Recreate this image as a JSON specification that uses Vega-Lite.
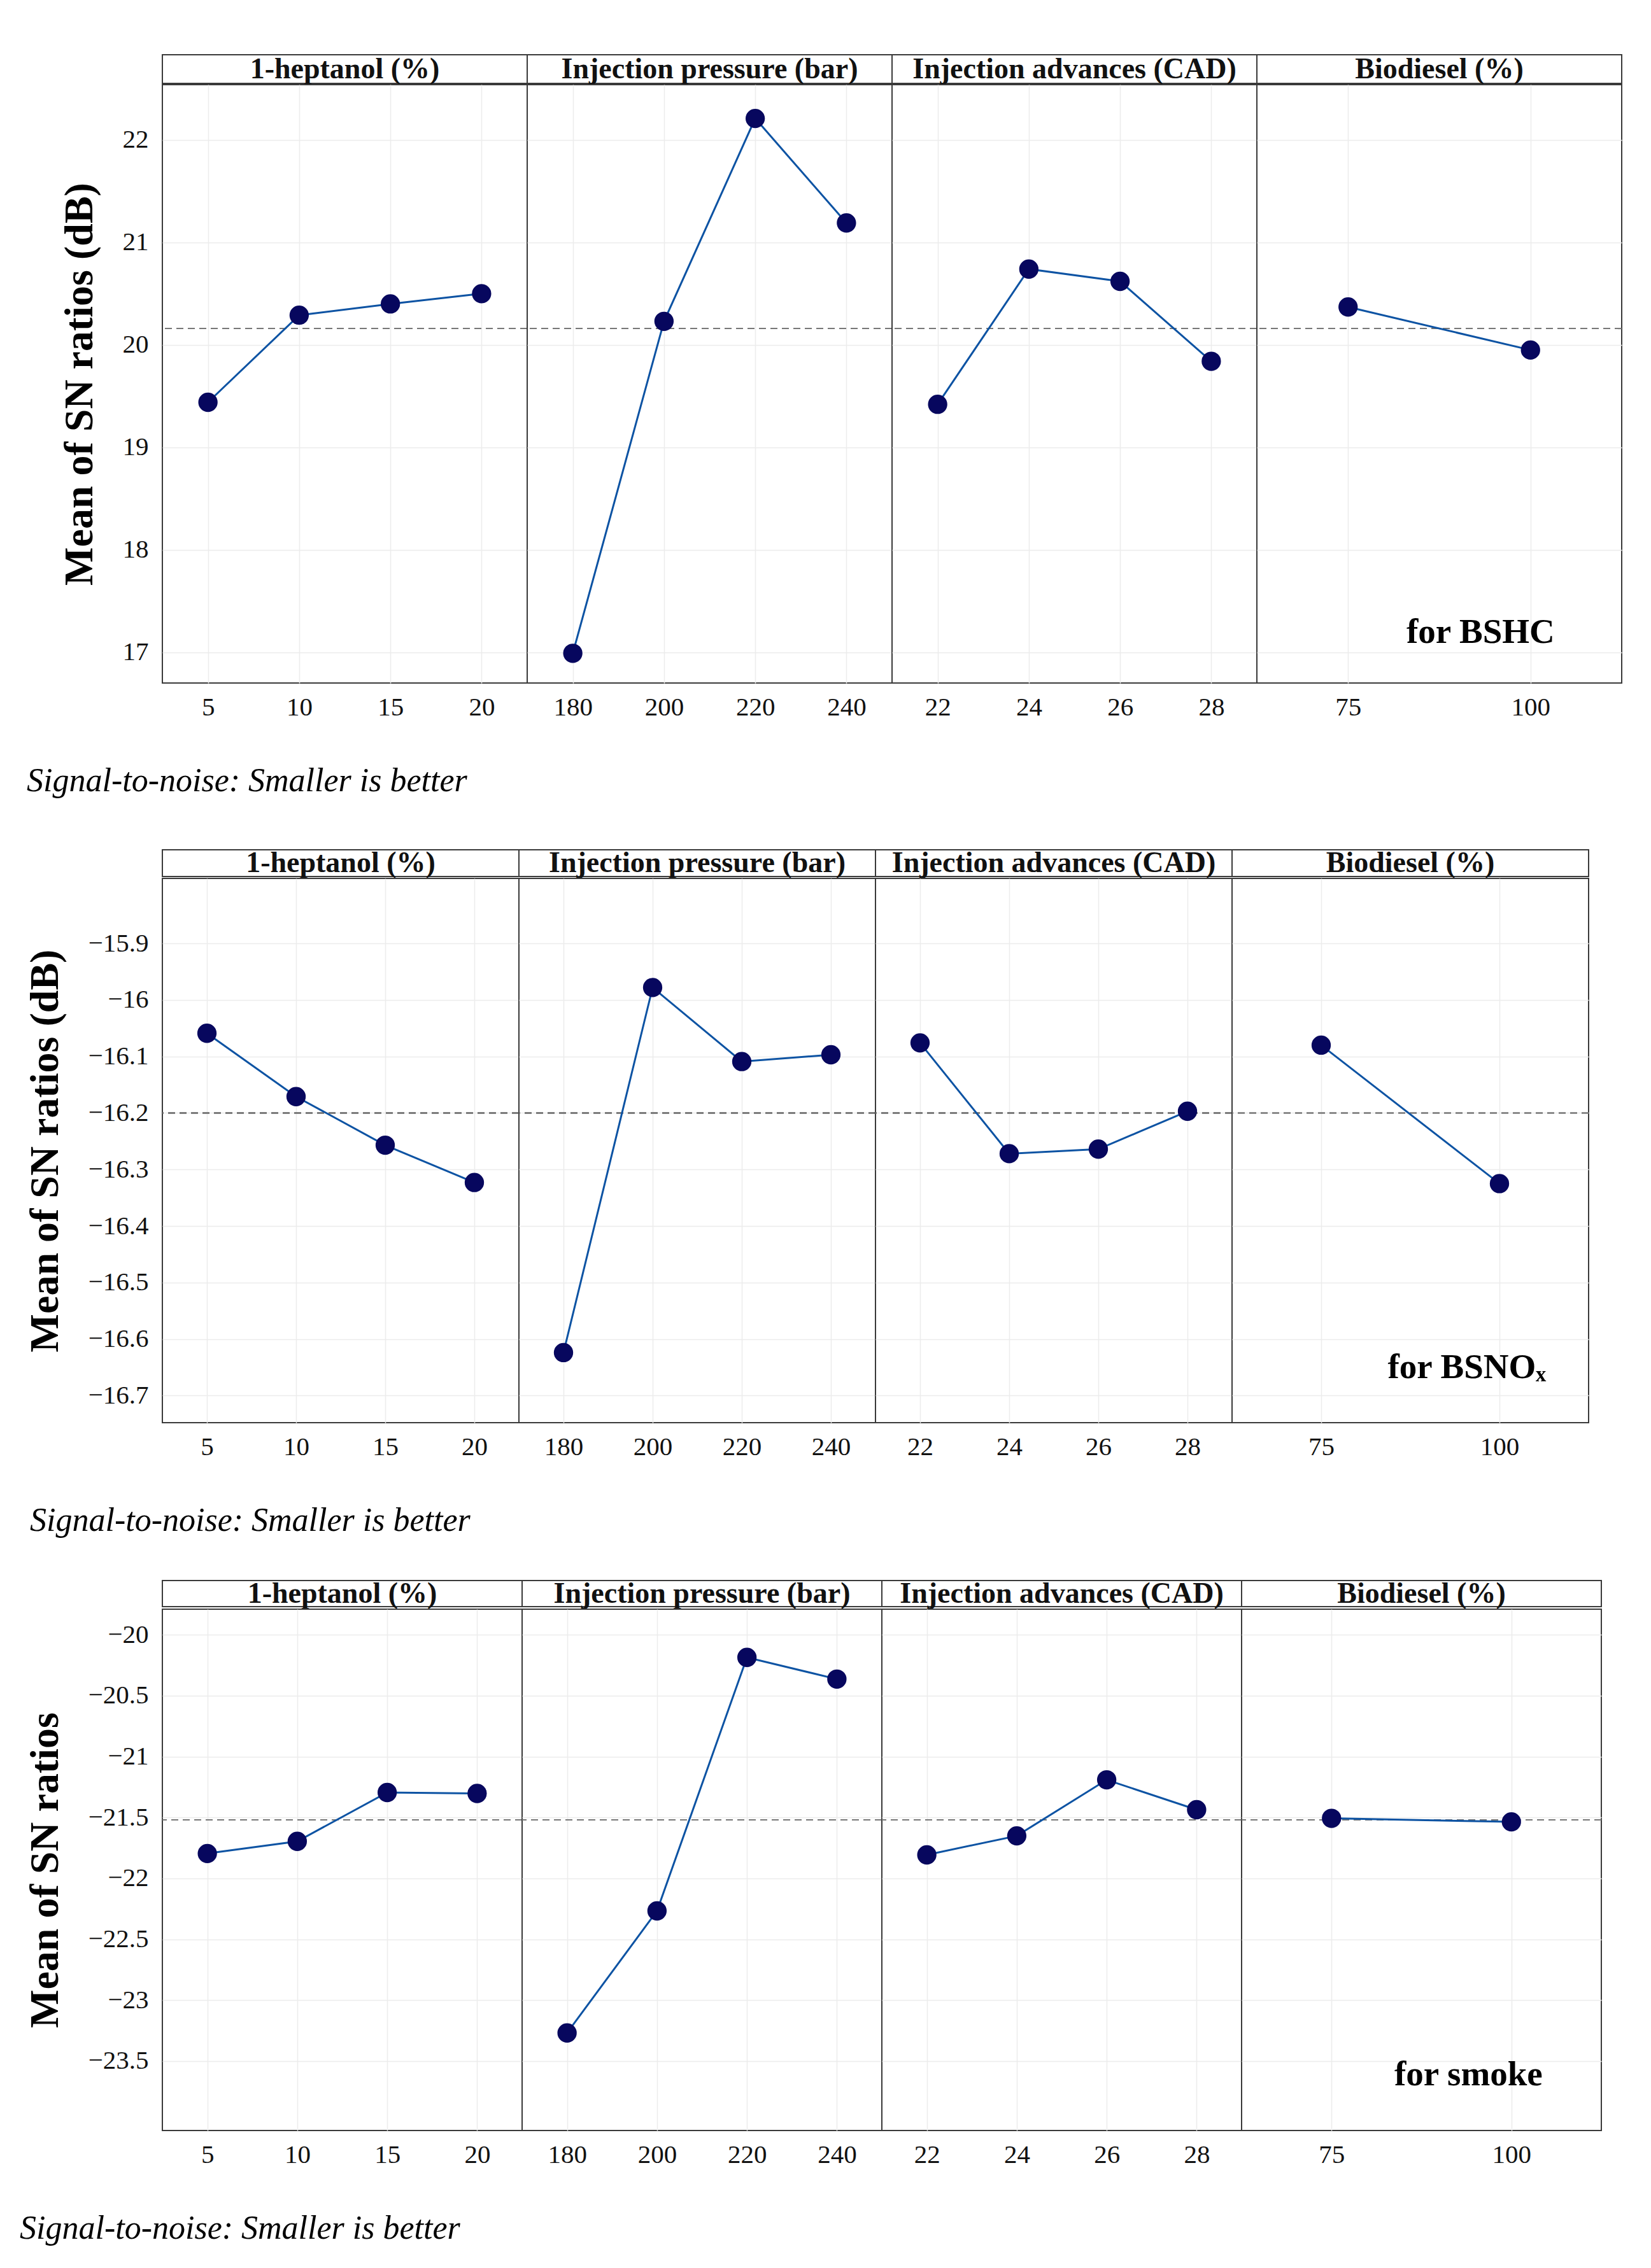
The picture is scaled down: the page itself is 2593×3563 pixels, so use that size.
{
  "$schema": "https://vega.github.io/schema/vega-lite/v6.json",
  "background": "white",
  "padding": {"left": 31, "top": 85, "right": 10, "bottom": 10},
  "datasets": {
    "factors": [
      {"factor": "1-heptanol (%)"},
      {"factor": "Injection pressure (bar)"},
      {"factor": "Injection advances (CAD)"},
      {"factor": "Biodiesel (%)"}
    ],
    "hc": [
      {"factor": "1-heptanol (%)", "level": 5, "sn": 19.44},
      {"factor": "1-heptanol (%)", "level": 10, "sn": 20.29},
      {"factor": "1-heptanol (%)", "level": 15, "sn": 20.40},
      {"factor": "1-heptanol (%)", "level": 20, "sn": 20.50},
      {"factor": "Injection pressure (bar)", "level": 180, "sn": 16.99},
      {"factor": "Injection pressure (bar)", "level": 200, "sn": 20.23},
      {"factor": "Injection pressure (bar)", "level": 220, "sn": 22.21},
      {"factor": "Injection pressure (bar)", "level": 240, "sn": 21.19},
      {"factor": "Injection advances (CAD)", "level": 22, "sn": 19.42},
      {"factor": "Injection advances (CAD)", "level": 24, "sn": 20.74},
      {"factor": "Injection advances (CAD)", "level": 26, "sn": 20.62},
      {"factor": "Injection advances (CAD)", "level": 28, "sn": 19.84},
      {"factor": "Biodiesel (%)", "level": 75, "sn": 20.37},
      {"factor": "Biodiesel (%)", "level": 100, "sn": 19.95}
    ],
    "nox": [
      {"factor": "1-heptanol (%)", "level": 5, "sn": -16.059},
      {"factor": "1-heptanol (%)", "level": 10, "sn": -16.171},
      {"factor": "1-heptanol (%)", "level": 15, "sn": -16.257},
      {"factor": "1-heptanol (%)", "level": 20, "sn": -16.323},
      {"factor": "Injection pressure (bar)", "level": 180, "sn": -16.624},
      {"factor": "Injection pressure (bar)", "level": 200, "sn": -15.978},
      {"factor": "Injection pressure (bar)", "level": 220, "sn": -16.109},
      {"factor": "Injection pressure (bar)", "level": 240, "sn": -16.097},
      {"factor": "Injection advances (CAD)", "level": 22, "sn": -16.076},
      {"factor": "Injection advances (CAD)", "level": 24, "sn": -16.272},
      {"factor": "Injection advances (CAD)", "level": 26, "sn": -16.264},
      {"factor": "Injection advances (CAD)", "level": 28, "sn": -16.197},
      {"factor": "Biodiesel (%)", "level": 75, "sn": -16.080},
      {"factor": "Biodiesel (%)", "level": 100, "sn": -16.325}
    ],
    "smoke": [
      {"factor": "1-heptanol (%)", "level": 5, "sn": -21.796},
      {"factor": "1-heptanol (%)", "level": 10, "sn": -21.696},
      {"factor": "1-heptanol (%)", "level": 15, "sn": -21.295},
      {"factor": "1-heptanol (%)", "level": 20, "sn": -21.303},
      {"factor": "Injection pressure (bar)", "level": 180, "sn": -23.269},
      {"factor": "Injection pressure (bar)", "level": 200, "sn": -22.267},
      {"factor": "Injection pressure (bar)", "level": 220, "sn": -20.186},
      {"factor": "Injection pressure (bar)", "level": 240, "sn": -20.364},
      {"factor": "Injection advances (CAD)", "level": 22, "sn": -21.807},
      {"factor": "Injection advances (CAD)", "level": 24, "sn": -21.651},
      {"factor": "Injection advances (CAD)", "level": 26, "sn": -21.191},
      {"factor": "Injection advances (CAD)", "level": 28, "sn": -21.436},
      {"factor": "Biodiesel (%)", "level": 75, "sn": -21.507},
      {"factor": "Biodiesel (%)", "level": 100, "sn": -21.536}
    ]
  },
  "spacing": 80,
  "vconcat": [
    {
      "spacing": 0,
      "title": {"text": "Signal-to-noise: Smaller is better", "orient": "bottom", "anchor": "start", "frame": "group", "dx": -213, "offset": 70},
      "vconcat": [
        {
          "data": {"name": "factors"},
          "facet": {"column": {"field": "factor", "type": "nominal", "sort": ["1-heptanol (%)", "Injection pressure (bar)", "Injection advances (CAD)", "Biodiesel (%)"], "header": {"labels": false, "title": null}}},
          "spacing": 0,
          "bounds": "flush",
          "spec": {
            "width": 573, "height": 45,
            "view": {"stroke": null},
            "layer": [
              {"mark": {"type": "rect", "fill": "white", "stroke": "#3a3a3a", "strokeWidth": 2}, "encoding": {}},
              {"mark": {"type": "text", "font": "Liberation Serif", "fontWeight": "bold", "fontSize": 46, "color": "#111"},
               "encoding": {"text": {"field": "factor", "type": "nominal"}}}
            ]
          }
        },
        {
          "data": {"name": "hc"},
          "facet": {"column": {"field": "factor", "type": "nominal", "sort": ["1-heptanol (%)", "Injection pressure (bar)", "Injection advances (CAD)", "Biodiesel (%)"], "header": {"labels": false, "title": null}}},
          "spacing": 0,
          "bounds": "flush",
          "resolve": {"scale": {"x": "independent"}},
          "spec": {
            "width": 573, "height": 940,
            "layer": [
              {
                "mark": {"type": "rule", "color": "#777777", "strokeDash": [11, 7], "strokeWidth": 2},
                "encoding": {"y": {"datum": 20.16, "type": "quantitative", "scale": {"domain": [16.70, 22.54], "nice": false, "zero": false}}}
              },
              {
                "mark": {"type": "line", "color": "#0d53a3", "strokeWidth": 3},
                "encoding": {
                  "x": {"field": "level", "type": "ordinal", "scale": {"type": "point", "padding": 0.5}, "axis": {"title": null, "labelAngle": 0, "grid": true}},
                  "y": {"field": "sn", "type": "quantitative", "scale": {"domain": [16.70, 22.54], "nice": false, "zero": false}, "axis": {"values": [17, 18, 19, 20, 21, 22], "format": "~g", "title": "Mean of SN ratios (dB)"}}
                }
              },
              {
                "mark": {"type": "point", "filled": true, "size": 920, "color": "#07075e", "opacity": 1},
                "encoding": {
                  "x": {"field": "level", "type": "ordinal"},
                  "y": {"field": "sn", "type": "quantitative"}
                }
              },
              {
                "transform": [{"filter": "datum.factor === 'Biodiesel (%)' && datum.level === 100"}],
                "mark": {"type": "text", "font": "Liberation Serif", "fontWeight": "bold", "fontSize": 55, "align": "right", "dx": 38, "color": "#000"},
                "encoding": {
                  "x": {"field": "level", "type": "ordinal"},
                  "y": {"datum": 17.2, "type": "quantitative"},
                  "text": {"value": "for BSHC"}
                }
              }
            ]
          }
        }
      ]
    },
    {
      "spacing": 65,
      "vconcat": [
        {
          "spacing": 0,
          "title": {"text": "Signal-to-noise: Smaller is better", "orient": "bottom", "anchor": "start", "frame": "group", "dx": -208, "offset": 70},
          "vconcat": [
            {
              "data": {"name": "factors"},
              "facet": {"column": {"field": "factor", "type": "nominal", "sort": ["1-heptanol (%)", "Injection pressure (bar)", "Injection advances (CAD)", "Biodiesel (%)"], "header": {"labels": false, "title": null}}},
              "spacing": 0,
              "bounds": "flush",
              "spec": {
                "width": 560, "height": 42,
                "view": {"stroke": null},
                "layer": [
                  {"mark": {"type": "rect", "fill": "white", "stroke": "#3a3a3a", "strokeWidth": 2}, "encoding": {}},
                  {"mark": {"type": "text", "font": "Liberation Serif", "fontWeight": "bold", "fontSize": 46, "color": "#111"},
                   "encoding": {"text": {"field": "factor", "type": "nominal"}}}
                ]
              }
            },
            {
              "data": {"name": "nox"},
              "facet": {"column": {"field": "factor", "type": "nominal", "sort": ["1-heptanol (%)", "Injection pressure (bar)", "Injection advances (CAD)", "Biodiesel (%)"], "header": {"labels": false, "title": null}}},
              "spacing": 0,
              "bounds": "flush",
              "resolve": {"scale": {"x": "independent"}},
              "spec": {
                "width": 560, "height": 855,
                "layer": [
                  {
                    "mark": {"type": "rule", "color": "#777777", "strokeDash": [11, 7], "strokeWidth": 2},
                    "encoding": {"y": {"datum": -16.2, "type": "quantitative", "scale": {"domain": [-16.748, -15.785], "nice": false, "zero": false}}}
                  },
                  {
                    "mark": {"type": "line", "color": "#0d53a3", "strokeWidth": 3},
                    "encoding": {
                      "x": {"field": "level", "type": "ordinal", "scale": {"type": "point", "padding": 0.5}, "axis": {"title": null, "labelAngle": 0, "grid": true}},
                      "y": {"field": "sn", "type": "quantitative", "scale": {"domain": [-16.748, -15.785], "nice": false, "zero": false}, "axis": {"values": [-16.7, -16.6, -16.5, -16.4, -16.3, -16.2, -16.1, -16, -15.9], "format": "~g", "title": "Mean of SN ratios (dB)"}}
                    }
                  },
                  {
                    "mark": {"type": "point", "filled": true, "size": 920, "color": "#07075e", "opacity": 1},
                    "encoding": {
                      "x": {"field": "level", "type": "ordinal"},
                      "y": {"field": "sn", "type": "quantitative"}
                    }
                  },
                  {
                    "transform": [{"filter": "datum.factor === 'Biodiesel (%)' && datum.level === 100"}],
                    "mark": {"type": "text", "font": "Liberation Serif", "fontWeight": "bold", "fontSize": 55, "align": "right", "dx": 73, "color": "#000"},
                    "encoding": {
                      "x": {"field": "level", "type": "ordinal"},
                      "y": {"datum": -16.65, "type": "quantitative"},
                      "text": {"value": "for BSNOₓ"}
                    }
                  }
                ]
              }
            }
          ]
        },
        {
          "spacing": 0,
          "title": {"text": "Signal-to-noise: Smaller is better", "orient": "bottom", "anchor": "start", "frame": "group", "dx": -224, "offset": 70},
          "vconcat": [
            {
              "data": {"name": "factors"},
              "facet": {"column": {"field": "factor", "type": "nominal", "sort": ["1-heptanol (%)", "Injection pressure (bar)", "Injection advances (CAD)", "Biodiesel (%)"], "header": {"labels": false, "title": null}}},
              "spacing": 0,
              "bounds": "flush",
              "spec": {
                "width": 565, "height": 41,
                "view": {"stroke": null},
                "layer": [
                  {"mark": {"type": "rect", "fill": "white", "stroke": "#3a3a3a", "strokeWidth": 2}, "encoding": {}},
                  {"mark": {"type": "text", "font": "Liberation Serif", "fontWeight": "bold", "fontSize": 46, "color": "#111"},
                   "encoding": {"text": {"field": "factor", "type": "nominal"}}}
                ]
              }
            },
            {
              "data": {"name": "smoke"},
              "facet": {"column": {"field": "factor", "type": "nominal", "sort": ["1-heptanol (%)", "Injection pressure (bar)", "Injection advances (CAD)", "Biodiesel (%)"], "header": {"labels": false, "title": null}}},
              "spacing": 0,
              "bounds": "flush",
              "resolve": {"scale": {"x": "independent"}},
              "spec": {
                "width": 565, "height": 819,
                "layer": [
                  {
                    "mark": {"type": "rule", "color": "#777777", "strokeDash": [11, 7], "strokeWidth": 2},
                    "encoding": {"y": {"datum": -21.52, "type": "quantitative", "scale": {"domain": [-24.07, -19.79], "nice": false, "zero": false}}}
                  },
                  {
                    "mark": {"type": "line", "color": "#0d53a3", "strokeWidth": 3},
                    "encoding": {
                      "x": {"field": "level", "type": "ordinal", "scale": {"type": "point", "padding": 0.5}, "axis": {"title": null, "labelAngle": 0, "grid": true}},
                      "y": {"field": "sn", "type": "quantitative", "scale": {"domain": [-24.07, -19.79], "nice": false, "zero": false}, "axis": {"values": [-23.5, -23, -22.5, -22, -21.5, -21, -20.5, -20], "format": "~g", "title": "Mean of SN ratios"}}
                    }
                  },
                  {
                    "mark": {"type": "point", "filled": true, "size": 920, "color": "#07075e", "opacity": 1},
                    "encoding": {
                      "x": {"field": "level", "type": "ordinal"},
                      "y": {"field": "sn", "type": "quantitative"}
                    }
                  },
                  {
                    "transform": [{"filter": "datum.factor === 'Biodiesel (%)' && datum.level === 100"}],
                    "mark": {"type": "text", "font": "Liberation Serif", "fontWeight": "bold", "fontSize": 55, "align": "right", "dx": 49, "color": "#000"},
                    "encoding": {
                      "x": {"field": "level", "type": "ordinal"},
                      "y": {"datum": -23.61, "type": "quantitative"},
                      "text": {"value": "for smoke"}
                    }
                  }
                ]
              }
            }
          ]
        }
      ]
    }
  ],
  "config": {
    "view": {"stroke": "#3a3a3a", "strokeWidth": 2},
    "axis": {
      "labelFont": "Liberation Serif", "labelFontSize": 41, "labelColor": "#111",
      "titleFont": "Liberation Serif", "titleFontSize": 64, "titleFontWeight": "bold", "titleColor": "#000",
      "domain": false, "ticks": false, "grid": true, "gridColor": "#ececec", "gridWidth": 1.5
    },
    "axisX": {"labelPadding": 18},
    "axisY": {"labelPadding": 22, "titlePadding": 35},
    "title": {"font": "Liberation Serif", "fontSize": 52, "fontStyle": "italic", "fontWeight": "normal", "color": "#000"}
  }
}
